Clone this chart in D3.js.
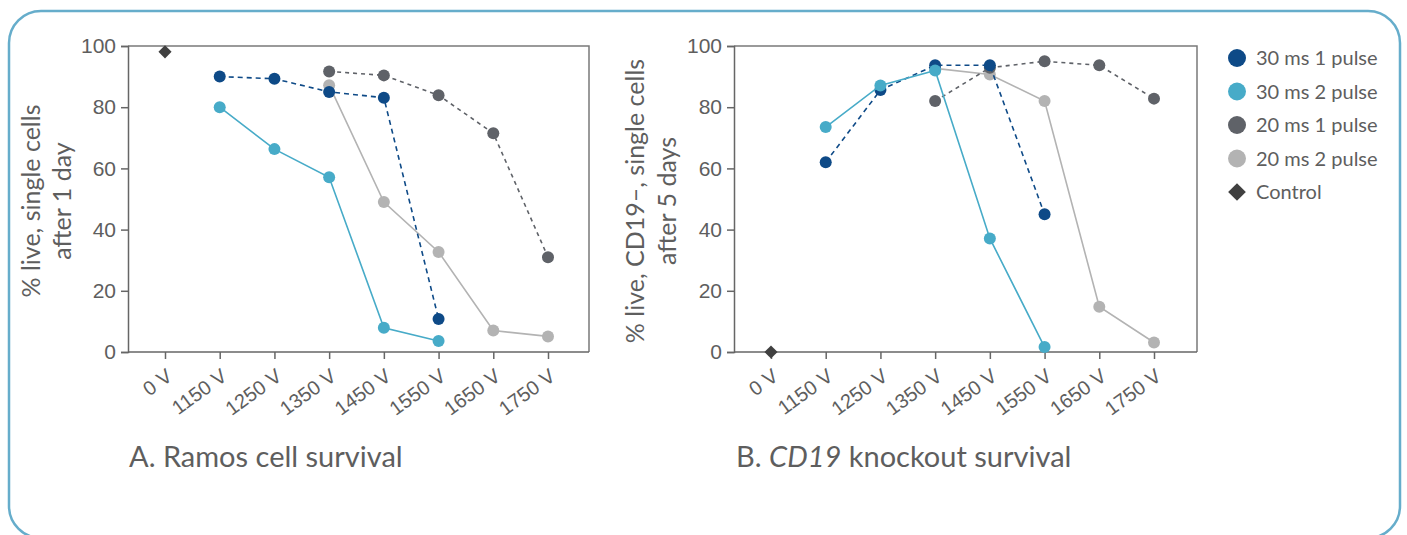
<!DOCTYPE html>
<html>
<head>
<meta charset="utf-8">
<script src="https://cdn.jsdelivr.net/npm/d3@7"></script>
<style>
  body { margin: 0; background: #fff; }
  svg { display: block; font-family: Lato, "Open Sans", sans-serif; }
</style>
</head>
<body>
<svg id="chart" width="1407" height="535"></svg>
<script>
const categories = ["0 V", "1150 V", "1250 V", "1350 V", "1450 V", "1550 V", "1650 V", "1750 V"];
const yTicks = [0, 20, 40, 60, 80, 100];

// Panel A: Ramos cell survival (% live, single cells after 1 day)
const ramos30ms1 = [null, 90.0, 89.3, 85.0, 83.1, 10.8, null, null];
const ramos30ms2 = [null, 80.0, 66.3, 57.1, 7.9, 3.6, null, null];
const ramos20ms1 = [null, null, null, 91.7, 90.4, 83.9, 71.5, 31.0];
const ramos20ms2 = [null, null, null, 87.2, 49.0, 32.7, 7.0, 5.1];
const ramosControl = [98.1];

// Panel B: CD19 knockout survival (% live, CD19-, single cells after 5 days)
const ko30ms1 = [null, 62.0, 85.6, 93.7, 93.7, 45.0, null, null];
const ko30ms2 = [null, 73.5, 87.1, 92.0, 37.1, 1.6, null, null];
const ko20ms1 = [null, null, null, 82.0, 92.9, 95.0, 93.7, 82.8];
const ko20ms2 = [null, null, null, 92.7, 90.7, 82.0, 14.8, 3.1];
const koControl = [0];

const seriesStyle = [
  { name: "30 ms 1 pulse", color: "#0e4a87", dash: "5,4" },
  { name: "30 ms 2 pulse", color: "#47abc8", dash: null },
  { name: "20 ms 1 pulse", color: "#5f6268", dash: "4,4" },
  { name: "20 ms 2 pulse", color: "#b3b3b3", dash: null }
];
const controlColor = "#404040";
const textColor = "#5e5e5e";
// drawing order: light gray, dark gray, dark blue, light blue
const drawOrder = [3, 2, 0, 1];

const svg = d3.select("#chart");

// rounded outer frame
svg.append("rect")
  .attr("x", 9).attr("y", 11)
  .attr("width", 1391).attr("height", 527)
  .attr("rx", 32).attr("ry", 32)
  .attr("fill", "none")
  .attr("stroke", "#66adcb")
  .attr("stroke-width", 2.5);

function drawPanel(opt) {
  const { x0, x1, pad, yLines, series, control, titleParts, titleX } = opt;
  const top = 46, bottom = 352;

  const x = d3.scalePoint().domain(categories).range([x0 + pad[0], x1 - pad[1]]);
  const y = d3.scaleLinear().domain([0, 100]).range([bottom, top]);

  const g = svg.append("g");

  // frame top & right
  g.append("path")
    .attr("d", `M${x0},${top}H${x1}V${bottom}`)
    .attr("fill", "none")
    .attr("stroke", "#7a7a7a")
    .attr("stroke-width", 1.5);

  const yAxis = g.append("g")
    .attr("transform", `translate(${x0},0)`)
    .call(d3.axisLeft(y).tickValues(yTicks).tickSize(7).tickPadding(5));
  yAxis.select(".domain").attr("stroke", "#666").attr("stroke-width", 1.5);
  yAxis.selectAll(".tick line").attr("stroke", "#666").attr("stroke-width", 1.5);
  yAxis.selectAll(".tick text")
    .attr("fill", textColor)
    .style("font-size", "21px");

  const xAxis = g.append("g")
    .attr("transform", `translate(0,${bottom})`)
    .call(d3.axisBottom(x).tickSize(7).tickSizeOuter(0));
  xAxis.select(".domain")
    .attr("d", `M${x0},0H${x1}`)
    .attr("stroke", "#666").attr("stroke-width", 1.5);
  xAxis.selectAll(".tick line").attr("stroke", "#666").attr("stroke-width", 1.5);
  xAxis.selectAll(".tick text")
    .attr("fill", textColor)
    .style("font-size", "20px")
    .attr("text-anchor", "end")
    .attr("dy", 0)
    .attr("transform", "translate(8,27) rotate(-36)")
    .attr("y", 0).attr("x", 0);

  // y axis title
  const yt = g.append("text")
    .attr("transform", `translate(${yLines[0].x},201) rotate(-90)`)
    .attr("text-anchor", "middle")
    .attr("fill", textColor)
    .style("font-size", "25px");
  yt.append("tspan").attr("x", 0).attr("y", 0).text(yLines[0].text);
  yt.append("tspan").attr("x", 0).attr("y", yLines[1].x - yLines[0].x).text(yLines[1].text);

  const line = d3.line()
    .defined(d => d != null)
    .x((d, i) => x(categories[i]))
    .y(d => y(d));

  drawOrder.forEach(k => {
    const s = seriesStyle[k];
    const vals = series[k];
    const pts = vals.map((v, i) => ({ v, i })).filter(d => d.v != null);
    g.append("path")
      .datum(vals)
      .attr("fill", "none")
      .attr("stroke", s.color)
      .attr("stroke-width", 1.6)
      .attr("stroke-dasharray", s.dash)
      .attr("d", line);
    g.selectAll(null)
      .data(pts)
      .enter()
      .append("circle")
      .attr("cx", d => x(categories[d.i]))
      .attr("cy", d => y(d.v))
      .attr("r", 6)
      .attr("fill", s.color);
  });

  // control diamond
  g.selectAll(null)
    .data(control)
    .enter()
    .append("path")
    .attr("d", d3.symbol().type(d3.symbolDiamond2).size(110))
    .attr("transform", (d, i) => `translate(${x(categories[i])},${y(d)})`)
    .attr("fill", controlColor);

  // panel title
  const t = svg.append("text")
    .attr("x", titleX).attr("y", 467)
    .attr("fill", textColor)
    .style("font-size", "29px");
  titleParts.forEach(p => {
    t.append("tspan").style("font-style", p.italic ? "italic" : "normal").text(p.text);
  });
}

drawPanel({
  x0: 128, x1: 589, pad: [37, 41],
  yLines: [{ x: 40, text: "% live, single cells" }, { x: 71, text: "after 1 day" }],
  series: [ramos30ms1, ramos30ms2, ramos20ms1, ramos20ms2],
  control: ramosControl,
  titleParts: [{ text: "A. Ramos cell survival" }],
  titleX: 129
});

drawPanel({
  x0: 734, x1: 1197, pad: [37, 43],
  yLines: [{ x: 644, text: "% live, CD19–, single cells" }, { x: 676, text: "after 5 days" }],
  series: [ko30ms1, ko30ms2, ko20ms1, ko20ms2],
  control: koControl,
  titleParts: [{ text: "B. " }, { text: "CD19", italic: true }, { text: " knockout survival" }],
  titleX: 736
});

// legend
const legendItems = seriesStyle.map(s => ({ name: s.name, color: s.color, diamond: false }))
  .concat([{ name: "Control", color: controlColor, diamond: true }]);
const legend = svg.append("g").attr("transform", "translate(1237,58)");
const li = legend.selectAll("g")
  .data(legendItems)
  .enter()
  .append("g")
  .attr("transform", (d, i) => `translate(0,${i * 33.5})`);
li.append("path")
  .attr("d", d => d.diamond
    ? d3.symbol().type(d3.symbolDiamond2).size(200)()
    : d3.symbol().type(d3.symbolCircle).size(Math.PI * 81)())
  .attr("fill", d => d.color);
li.append("text")
  .attr("x", 19)
  .attr("dy", "0.35em")
  .attr("fill", textColor)
  .style("font-size", "20px")
  .text(d => d.name);
</script>
</body>
</html>
